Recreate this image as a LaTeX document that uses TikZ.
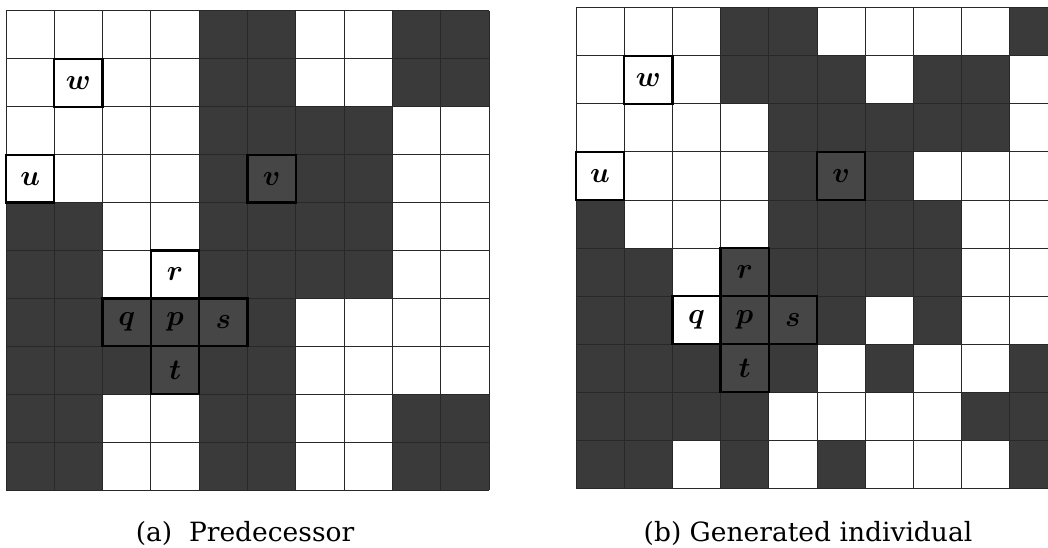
\documentclass[tikz,border=0pt]{standalone}
\usepackage{fix-cm}
\usepackage{fontspec}
\usepackage{bm}
\newfontfamily\capfont{DejaVu Serif}
\definecolor{darkcell}{RGB}{58,58,58}
\definecolor{boxdark}{RGB}{70,70,70}
\definecolor{gridcol}{RGB}{40,40,40}
\tikzset{
  gridline/.style={draw=gridcol, line width=1pt},
  cellbase/.style={draw=black, line width=2.3pt, inner sep=0pt,
    font=\fontsize{29}{29}\selectfont, text=black},
  boxwa/.style={cellbase, fill=white, minimum width=48.3pt, minimum height=47.9pt},
  boxda/.style={cellbase, fill=boxdark, minimum width=48.3pt, minimum height=47.9pt},
  boxwb/.style={cellbase, fill=white, minimum width=48.2pt, minimum height=48pt},
  boxdb/.style={cellbase, fill=boxdark, minimum width=48.2pt, minimum height=48pt},
  caption/.style={font=\capfont\fontsize{26.5}{30}\selectfont, anchor=base, inner sep=0pt}
}
\begin{document}
\begin{tikzpicture}[x=1pt,y=-1pt]
\useasboundingbox (0,0) rectangle (1048,548);
\fill[white] (0,0) rectangle (1048,548);
% ---------- left grid (a) ----------
\foreach \rowlist [count=\rr from 0] in {
  {0,0,0,0,1,1,0,0,1,1},
  {0,0,0,0,1,1,0,0,1,1},
  {0,0,0,0,1,1,1,1,0,0},
  {0,0,0,0,1,1,1,1,0,0},
  {1,1,0,0,1,1,1,1,0,0},
  {1,1,0,0,1,1,1,1,0,0},
  {1,1,1,1,1,1,0,0,0,0},
  {1,1,1,1,1,1,0,0,0,0},
  {1,1,0,0,1,1,0,0,1,1},
  {1,1,0,0,1,1,0,0,1,1}} {
  \foreach \vv [count=\cc from 0] in \rowlist {
    \ifnum\vv=1
      \fill[darkcell] (6+\cc*48.3, 11+\rr*47.9) rectangle ++(48.3,47.9);
    \fi
  }
}
\foreach \i in {0,...,10} {
  \draw[gridline] (6+\i*48.3, 11) -- (6+\i*48.3, 490);
  \draw[gridline] (6, 11+\i*47.9) -- (489, 11+\i*47.9);
}
\foreach \n/\cc/\rr/\st in {w/1/1/boxwa, u/0/3/boxwa, v/5/3/boxda, r/3/5/boxwa,
                            q/2/6/boxda, p/3/6/boxda, s/4/6/boxda, t/3/7/boxda} {
  \node[\st] (a\n) at (6+48.3*\cc+24.15, 11+47.9*\rr+23.95) {$\bm{\n}$};
}
% ---------- right grid (b) ----------
\begin{scope}
\clip (560,0) rectangle (1048,548);
\foreach \rowlist [count=\rr from 0] in {
  {0,0,0,1,1,0,0,0,0,1},
  {0,0,0,1,1,1,0,1,1,0},
  {0,0,0,0,1,1,1,1,1,0},
  {0,0,0,0,1,1,1,0,0,0},
  {1,0,0,0,1,1,1,1,0,0},
  {1,1,0,1,1,1,1,1,0,0},
  {1,1,0,1,1,1,0,1,0,0},
  {1,1,1,1,1,0,1,0,0,1},
  {1,1,1,1,0,0,0,0,1,1},
  {1,1,0,1,0,1,0,0,0,1}} {
  \foreach \vv [count=\cc from 0] in \rowlist {
    \ifnum\vv=1
      \fill[darkcell] (576+\cc*48.2, 8+\rr*48) rectangle ++(48.2,48);
    \fi
  }
}
\foreach \i in {0,...,10} {
  \draw[gridline] (576+\i*48.2, 8) -- (576+\i*48.2, 488);
  \draw[gridline] (576, 8+\i*48) -- (1058, 8+\i*48);
}
\foreach \n/\cc/\rr/\st in {w/1/1/boxwb, u/0/3/boxwb, v/5/3/boxdb, r/3/5/boxdb,
                            q/2/6/boxwb, p/3/6/boxdb, s/4/6/boxdb, t/3/7/boxdb} {
  \node[\st] (b\n) at (576+48.2*\cc+24.1, 8+48*\rr+24) {$\bm{\n}$};
}
\end{scope}
% ---------- captions ----------
\node[caption] (capa) at (245,541) {(a)\ \ Predecessor};
\node[caption] (capb) at (808,541) {(b) Generated individual};
\end{tikzpicture}
\end{document}
